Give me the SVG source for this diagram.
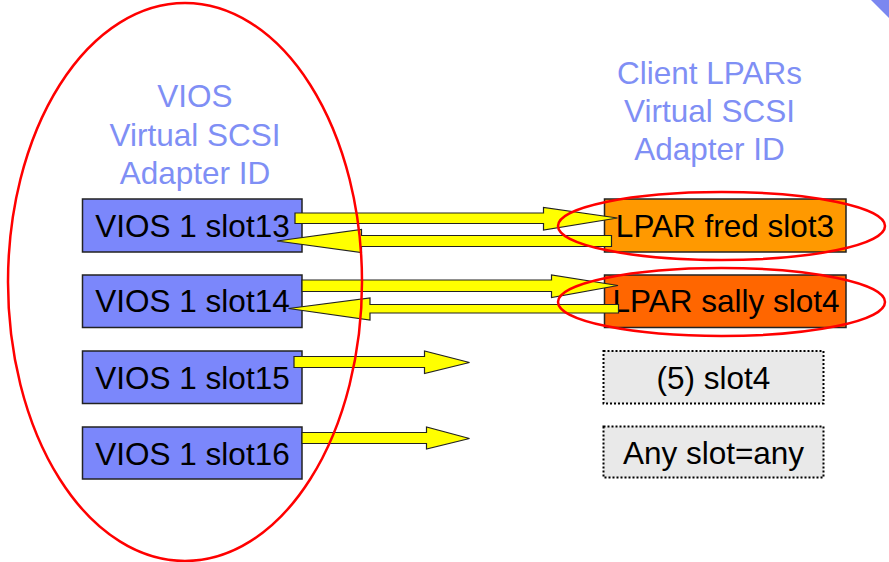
<svg xmlns="http://www.w3.org/2000/svg" width="889" height="562" viewBox="0 0 889 562">
  <defs>
    <style>
      text { font-family: "Liberation Sans", Arial, sans-serif; font-size: 31.5px; text-anchor: middle; }
      .hdr { fill: #7f8ff5; }
      .lbl { fill: #000000; }
      .vios { fill: #7b87fb; stroke: #222222; stroke-width: 1.5; }
      .fred { fill: #ff9900; stroke: #222222; stroke-width: 1.5; }
      .sally { fill: #ff6600; stroke: #222222; stroke-width: 1.5; }
      .free { fill: #e9e9e9; stroke: #000000; stroke-width: 2; stroke-dasharray: 2 2; }
      .arrow { fill: #ffff00; stroke: #222222; stroke-width: 1.2; stroke-linejoin: miter; }
      .ring { fill: none; stroke: #ff0000; stroke-width: 2.5; }
    </style>
  </defs>

  <rect width="889" height="562" fill="#ffffff"/>

  <!-- corner decoration -->
  <polygon points="871,0 889,0 889,18" fill="#7b87f0"/>

  <!-- column headings -->
  <g id="vios-heading">
    <text class="hdr" x="195" y="106.5">VIOS</text>
    <text class="hdr" x="195" y="145.5">Virtual SCSI</text>
    <text class="hdr" x="195" y="183.5">Adapter ID</text>
  </g>
  <g id="client-heading">
    <text class="hdr" x="709.5" y="83.5">Client LPARs</text>
    <text class="hdr" x="709.5" y="121.5">Virtual SCSI</text>
    <text class="hdr" x="709.5" y="159.5">Adapter ID</text>
  </g>

  <!-- VIOS adapters -->
  <g id="vios-slot13">
    <rect class="vios" x="82.5" y="199" width="219.5" height="53"/>
    <text class="lbl" x="192.5" y="236.5">VIOS 1 slot13</text>
  </g>
  <g id="vios-slot14">
    <rect class="vios" x="82.5" y="275" width="219.5" height="52.5"/>
    <text class="lbl" x="192.5" y="312">VIOS 1 slot14</text>
  </g>
  <g id="vios-slot15">
    <rect class="vios" x="82.5" y="351" width="219.5" height="52.5"/>
    <text class="lbl" x="192.5" y="388.5">VIOS 1 slot15</text>
  </g>
  <g id="vios-slot16">
    <rect class="vios" x="82.5" y="427" width="219.5" height="52"/>
    <text class="lbl" x="192.5" y="464.5">VIOS 1 slot16</text>
  </g>

  <!-- client adapters -->
  <g id="lpar-fred">
    <rect class="fred" x="604.5" y="199" width="241.5" height="53"/>
    <text class="lbl" x="725" y="236.5">LPAR fred slot3</text>
  </g>
  <g id="lpar-sally">
    <rect class="sally" x="604.5" y="275" width="241.5" height="52.5"/>
    <text class="lbl" x="726" y="311.5">LPAR sally slot4</text>
  </g>
  <g id="free-slot4">
    <rect class="free" x="603.5" y="351" width="220" height="52.5"/>
    <text class="lbl" x="713.5" y="388.5">(5) slot4</text>
  </g>
  <g id="free-any">
    <rect class="free" x="603.5" y="426.5" width="220" height="51"/>
    <text class="lbl" x="713.5" y="464">Any slot=any</text>
  </g>

  <!-- connectors -->
  <g id="connectors">
    <!-- slot13 to fred -->
    <polygon class="arrow" points="295,213 543.5,213 543.5,207.5 617.5,218 543.5,230 543.5,223.5 295,223.5"/>
    <!-- fred to slot13 -->
    <polygon class="arrow" points="611.5,235.5 361.5,235.5 361.5,229.5 277,241 361.5,252.5 361.5,246.5 611.5,246.5"/>
    <!-- slot14 to sally -->
    <polygon class="arrow" points="302,280 551.5,280 551.5,275 618,285.5 551.5,297.5 551.5,291.5 302,291.5"/>
    <!-- sally to slot14 -->
    <polygon class="arrow" points="618.5,304.5 370,304.5 370,298 288.5,308.5 370,320 370,313 618.5,313"/>
    <!-- slot15 outbound -->
    <polygon class="arrow" points="294,356.5 424.5,356.5 424.5,351 469.5,362.5 424.5,373.5 424.5,367.5 294,367.5"/>
    <!-- slot16 outbound -->
    <polygon class="arrow" points="302,432.5 426.5,432.5 426.5,427 469.5,438.5 426.5,449 426.5,443.5 302,443.5"/>
  </g>

  <!-- highlight rings -->
  <g id="highlights">
    <ellipse class="ring" cx="185" cy="282" rx="177" ry="279"/>
    <ellipse class="ring" cx="721.5" cy="226" rx="163.5" ry="34"/>
    <ellipse class="ring" cx="721.5" cy="302" rx="163.5" ry="34"/>
  </g>
</svg>
